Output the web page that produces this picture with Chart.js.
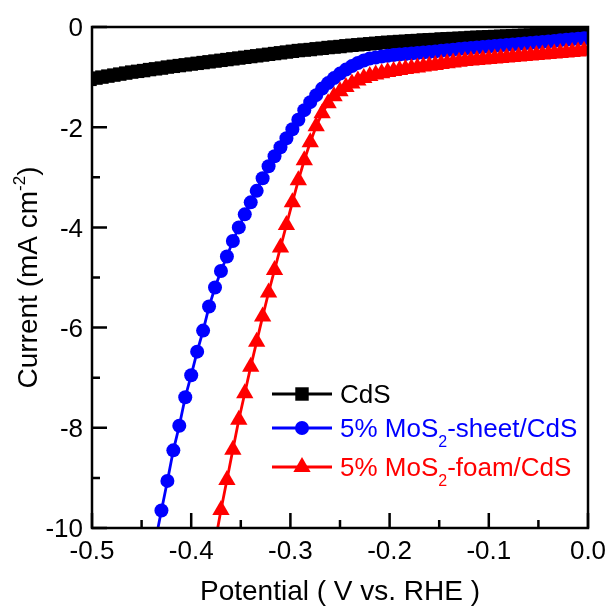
<!DOCTYPE html>
<html><head><meta charset="utf-8">
<script src="https://cdn.jsdelivr.net/npm/chart.js@4.4.0/dist/chart.umd.min.js"></script>
<style>html,body{margin:0;padding:0;background:#fff;}#wrap{width:611px;height:606px;}</style>
</head><body><div id="wrap"><canvas id="c" width="611" height="606"></canvas></div>
<script>
const potential = [
-0.502,-0.496,-0.490,-0.484,-0.478,-0.472,-0.466,-0.460,-0.454,-0.448,
-0.442,-0.436,-0.430,-0.424,-0.418,-0.412,-0.406,-0.400,-0.394,-0.388,
-0.382,-0.376,-0.370,-0.364,-0.358,-0.352,-0.346,-0.340,-0.334,-0.328,
-0.322,-0.316,-0.310,-0.304,-0.298,-0.292,-0.286,-0.280,-0.274,-0.268,
-0.262,-0.256,-0.250,-0.244,-0.238,-0.232,-0.226,-0.220,-0.214,-0.208,
-0.202,-0.196,-0.190,-0.184,-0.178,-0.172,-0.166,-0.160,-0.154,-0.148,
-0.142,-0.136,-0.130,-0.124,-0.118,-0.112,-0.106,-0.100,-0.094,-0.088,
-0.082,-0.076,-0.070,-0.064,-0.058,-0.052,-0.046,-0.040,-0.034,-0.028,
-0.022,-0.016,-0.010,-0.004,0.002];
const cdsCurrent = [
-1.045,-1.02,-1.00,-0.98,-0.96,-0.94,-0.92,-0.90,-0.885,-0.87,
-0.85,-0.835,-0.82,-0.80,-0.785,-0.77,-0.755,-0.74,-0.725,-0.71,
-0.695,-0.68,-0.665,-0.65,-0.635,-0.62,-0.605,-0.59,-0.575,-0.56,
-0.545,-0.53,-0.515,-0.50,-0.485,-0.47,-0.46,-0.45,-0.435,-0.425,
-0.41,-0.40,-0.39,-0.375,-0.365,-0.355,-0.345,-0.335,-0.325,-0.315,
-0.305,-0.30,-0.29,-0.285,-0.275,-0.27,-0.26,-0.255,-0.25,-0.24,
-0.235,-0.23,-0.225,-0.22,-0.21,-0.205,-0.20,-0.195,-0.19,-0.185,
-0.18,-0.175,-0.17,-0.165,-0.16,-0.155,-0.15,-0.145,-0.14,-0.135,
-0.13,-0.125,-0.12,-0.115,-0.11];
const sheetCurrent = [
null,null,null,null,null,null,null,null,null,null,
null,-10.25,-9.65,-9.06,-8.45,-7.96,-7.39,-6.95,-6.48,-6.06,
-5.58,-5.20,-4.87,-4.58,-4.27,-4.00,-3.74,-3.50,-3.27,-3.02,
-2.78,-2.58,-2.40,-2.22,-2.04,-1.85,-1.66,-1.50,-1.36,-1.23,
-1.12,-1.02,-0.93,-0.85,-0.78,-0.72,-0.67,-0.63,-0.61,-0.59,
-0.575,-0.56,-0.55,-0.54,-0.53,-0.52,-0.51,-0.50,-0.49,-0.475,
-0.465,-0.455,-0.44,-0.43,-0.42,-0.41,-0.40,-0.39,-0.38,-0.37,
-0.36,-0.35,-0.34,-0.33,-0.32,-0.31,-0.30,-0.29,-0.28,-0.265,
-0.255,-0.245,-0.235,-0.225,-0.215];
const foamCurrent = [
null,null,null,null,null,null,null,null,null,null,
null,null,null,null,null,null,null,null,null,null,
null,-10.30,-9.64,-9.04,-8.44,-7.84,-7.31,-6.78,-6.28,-5.78,
-5.30,-4.85,-4.40,-3.95,-3.50,-3.06,-2.66,-2.30,-1.98,-1.72,
-1.52,-1.38,-1.28,-1.20,-1.13,-1.07,-1.02,-0.98,-0.95,-0.925,
-0.90,-0.88,-0.86,-0.84,-0.825,-0.81,-0.79,-0.775,-0.76,-0.74,
-0.725,-0.71,-0.695,-0.68,-0.67,-0.66,-0.65,-0.64,-0.63,-0.62,
-0.61,-0.60,-0.59,-0.58,-0.57,-0.56,-0.55,-0.54,-0.53,-0.52,
-0.51,-0.50,-0.49,-0.475,-0.465];

const seriesNames = ['CdS', '5% MoS2-sheet/CdS', '5% MoS2-foam/CdS'];
const xTicks = [-0.5, -0.4, -0.3, -0.2, -0.1, 0.0];
const xTickLabels = ['-0.5', '-0.4', '-0.3', '-0.2', '-0.1', '0.0'];
const xMinorTicks = [-0.45, -0.35, -0.25, -0.15, -0.05];
const yTicks = [0, -2, -4, -6, -8, -10];
const yTickLabels = ['0', '-2', '-4', '-6', '-8', '-10'];
const yMinorTicks = [-1, -3, -5, -7, -9];
const xTitle = 'Potential ( V vs. RHE )';
const yTitleParts = ['Current (mA cm', '-2', ')'];

function pts(arr) {
  const out = [];
  potential.forEach((v, i) => { if (arr[i] !== null) out.push({ x: v, y: arr[i] }); });
  return out;
}

const FONT = '"Liberation Sans", Arial, sans-serif';
const styles = [
  { color: '#000000', pointStyle: 'rect', radius: 9.5 },
  { color: '#0000FF', pointStyle: 'circle', radius: 7 },
  { color: '#FF0000', pointStyle: 'triangle', radius: 10 }
];
const series = [cdsCurrent, sheetCurrent, foamCurrent];
const drawOrder = [3, 2, 1];

const datasets = series.map((arr, i) => ({
  label: seriesNames[i],
  data: pts(arr),
  showLine: true,
  borderColor: styles[i].color,
  backgroundColor: styles[i].color,
  borderWidth: 2.8,
  pointStyle: styles[i].pointStyle,
  pointRadius: styles[i].radius,
  pointBorderWidth: 0,
  pointBackgroundColor: styles[i].color,
  pointHoverRadius: styles[i].radius,
  tension: 0,
  clip: 0,
  order: drawOrder[i]
}));

function drawMarker(ctx, style, x, y) {
  ctx.save();
  ctx.fillStyle = style.color;
  ctx.beginPath();
  const r = style.radius;
  if (style.pointStyle === 'circle') {
    ctx.arc(x, y, r, 0, Math.PI * 2);
  } else if (style.pointStyle === 'rect') {
    const s = Math.SQRT1_2 * r;
    ctx.rect(x - s, y - s, 2 * s, 2 * s);
  } else {
    ctx.moveTo(x, y - r);
    ctx.lineTo(x + r * Math.sin(2 * Math.PI / 3), y - r * Math.cos(2 * Math.PI / 3));
    ctx.lineTo(x + r * Math.sin(4 * Math.PI / 3), y - r * Math.cos(4 * Math.PI / 3));
    ctx.closePath();
  }
  ctx.fill();
  ctx.restore();
}

const framePlugin = {
  id: 'frame',
  afterDraw(chart) {
    const ctx = chart.ctx;
    const xs = chart.scales.x, ys = chart.scales.y;
    const { left, right, top, bottom } = chart.chartArea;
    ctx.save();
    ctx.strokeStyle = '#000';
    ctx.lineWidth = 2.5;
    ctx.lineCap = 'butt';
    ctx.strokeRect(left, top, right - left, bottom - top);
    ctx.beginPath();
    xTicks.forEach(v => { const p = xs.getPixelForValue(v); ctx.moveTo(p, bottom); ctx.lineTo(p, bottom - 15); });
    xMinorTicks.forEach(v => { const p = xs.getPixelForValue(v); ctx.moveTo(p, bottom); ctx.lineTo(p, bottom - 8); });
    yTicks.forEach(v => { const p = ys.getPixelForValue(v); ctx.moveTo(left, p); ctx.lineTo(left + 15, p); });
    yMinorTicks.forEach(v => { const p = ys.getPixelForValue(v); ctx.moveTo(left, p); ctx.lineTo(left + 8, p); });
    ctx.stroke();

    // tick labels
    ctx.fillStyle = '#000';
    ctx.font = '26px ' + FONT;
    ctx.textBaseline = 'alphabetic';
    ctx.textAlign = 'center';
    xTicks.forEach((v, i) => { ctx.fillText(xTickLabels[i], xs.getPixelForValue(v), 559); });
    ctx.textAlign = 'right';
    yTicks.forEach((v, i) => { ctx.fillText(yTickLabels[i], 83, ys.getPixelForValue(v) + 9.3); });

    // x title
    ctx.font = '28px ' + FONT;
    ctx.textAlign = 'center';
    ctx.fillText(xTitle, (left + right) / 2, 600);

    // y title (rotated) with superscript
    ctx.save();
    ctx.translate(37, (top + bottom) / 2);
    ctx.rotate(-Math.PI / 2);
    ctx.textAlign = 'left';
    const big = '28px ' + FONT, small = '17px ' + FONT;
    ctx.font = big; const w0 = ctx.measureText(yTitleParts[0]).width;
    ctx.font = small; const w1 = ctx.measureText(yTitleParts[1]).width;
    ctx.font = big; const w2 = ctx.measureText(yTitleParts[2]).width;
    let x0 = -(w0 + w1 + w2) / 2;
    ctx.font = big; ctx.fillText(yTitleParts[0], x0, 0);
    ctx.font = small; ctx.fillText(yTitleParts[1], x0 + w0, -12);
    ctx.font = big; ctx.fillText(yTitleParts[2], x0 + w0 + w1, 0);
    ctx.restore();

    // legend
    const rows = [394, 428, 467];
    const legendParts = [
      [{ t: 'CdS' }],
      [{ t: '5% MoS' }, { t: '2', sub: true }, { t: '-sheet/CdS' }],
      [{ t: '5% MoS' }, { t: '2', sub: true }, { t: '-foam/CdS' }]
    ];
    rows.forEach((ry, i) => {
      const st = styles[i];
      ctx.strokeStyle = st.color;
      ctx.lineWidth = 2.8;
      ctx.beginPath(); ctx.moveTo(272, ry); ctx.lineTo(332, ry); ctx.stroke();
      drawMarker(ctx, st, 302, ry);
      ctx.fillStyle = st.color;
      ctx.textAlign = 'left';
      let tx = 340;
      legendParts[i].forEach(p => {
        if (p.sub) {
          ctx.font = '16px ' + FONT;
          ctx.fillText(p.t, tx, ry + 19);
        } else {
          ctx.font = '26px ' + FONT;
          ctx.fillText(p.t, tx, ry + 9.3);
        }
        tx += ctx.measureText(p.t).width;
      });
    });
    ctx.restore();
  }
};

new Chart(document.getElementById('c'), {
  type: 'scatter',
  data: { datasets },
  options: {
    responsive: false,
    animation: false,
    devicePixelRatio: 1,
    layout: { padding: { top: 27, right: 23, left: 0, bottom: 0 } },
    plugins: { legend: { display: false }, tooltip: { enabled: false } },
    scales: {
      x: {
        type: 'linear', min: -0.5, max: 0,
        grid: { display: false }, border: { display: false },
        ticks: { display: false },
        afterFit(s) { s.height = 78; }
      },
      y: {
        type: 'linear', min: -10, max: 0,
        grid: { display: false }, border: { display: false },
        ticks: { display: false },
        afterFit(s) { s.width = 92; }
      }
    }
  },
  plugins: [framePlugin]
});
</script>
</body></html>
